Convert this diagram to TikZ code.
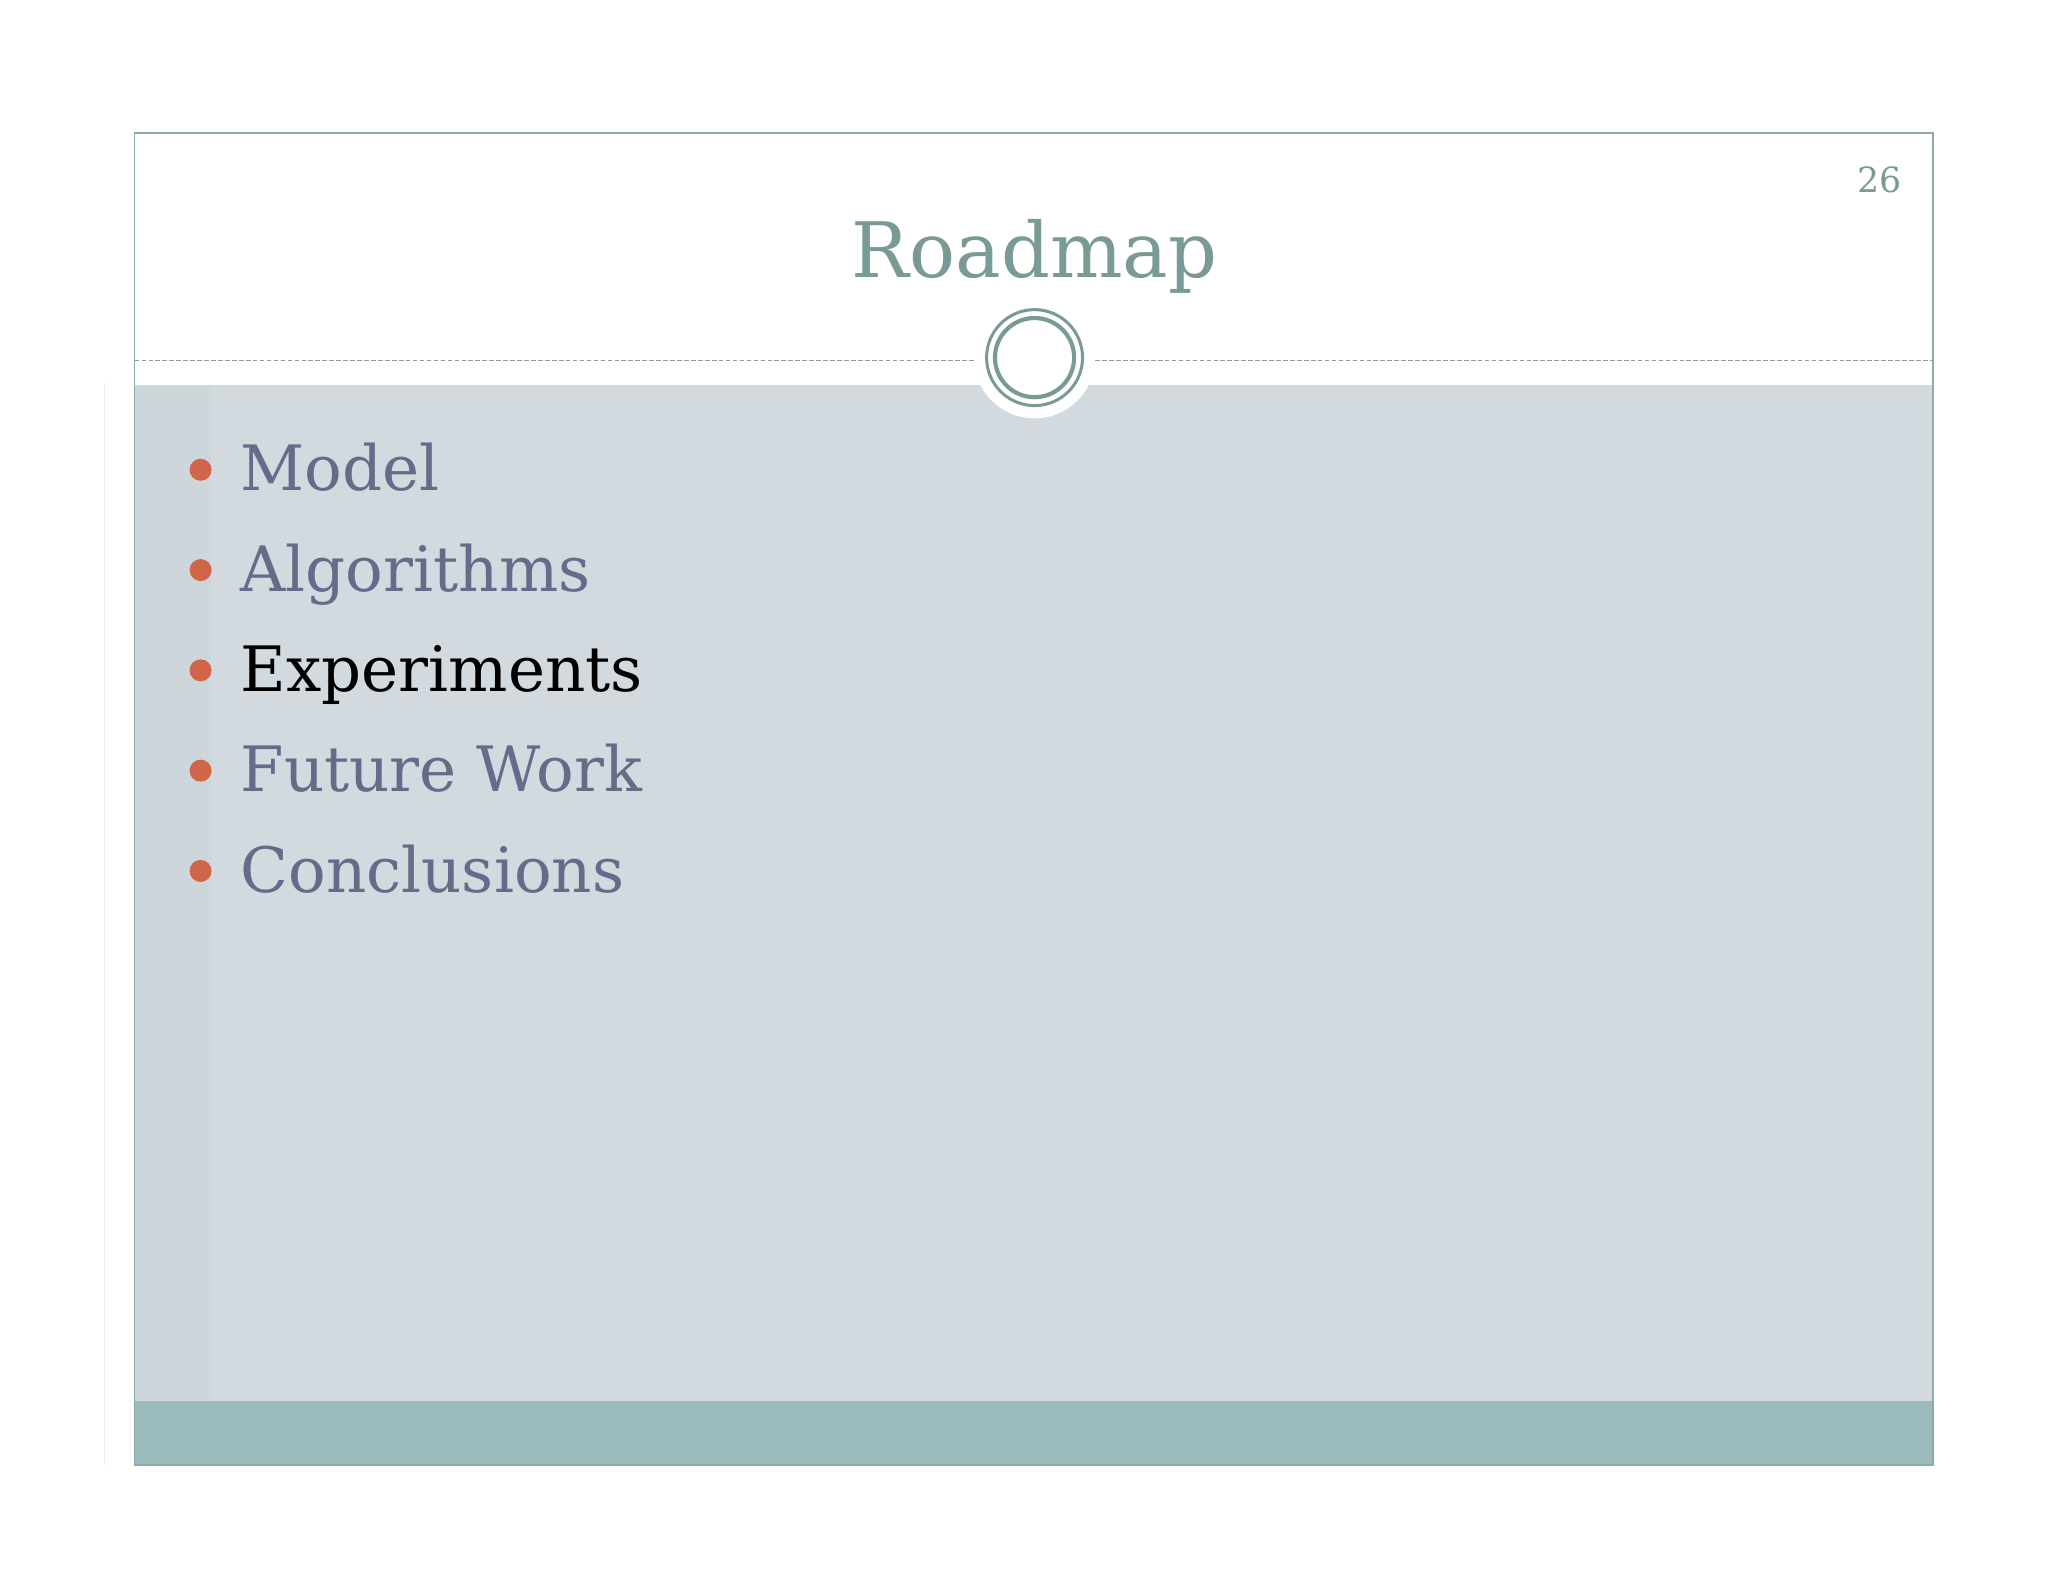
\documentclass[tikz,border=0pt]{standalone}
\usepackage{fontspec}
\setmainfont{DejaVu Serif}
\definecolor{tcol}{HTML}{7A9A95}
\definecolor{bgc}{HTML}{D2DAE0}
\definecolor{foot}{HTML}{9BBBBD}
\definecolor{txt}{HTML}{646C8A}
\definecolor{bul}{HTML}{D0654A}
\definecolor{frm}{HTML}{8FABA8}
\begin{document}
\begin{tikzpicture}[x=0.02cm,y=-0.02cm,
  item/.style={anchor=base west,text=txt,font=\fontsize{27}{32}\selectfont,inner sep=0pt},
  dot/.style={circle,fill=bul,minimum size=9.5pt,inner sep=0pt}]
\useasboundingbox (0,0) rectangle (1552,1199);
\fill[white] (0,0) rectangle (1552,1199);
\fill[bgc] (102,292) rectangle (1465,1062);
\fill[tcol, opacity=0.06] (102,292) rectangle (160,1062);
\fill[foot] (102,1062) rectangle (1465,1110);
\draw[frm, line width=0.7pt] (102,101) rectangle (1465,1110);
\draw[gray!15, line width=0.5pt] (79,290) -- (79,1110);
\draw[gray!80, dash pattern=on 2pt off 1pt, line width=0.4pt] (102,273) -- (740,273);
\draw[gray!80, dash pattern=on 2pt off 1pt, line width=0.4pt] (830,273) -- (1465,273);
\fill[white] (784,271) circle (46);
\node[circle, draw=tcol, line width=1.3pt, minimum size=73*0.567pt, inner sep=0pt] (ring) at (784,271) {};
\draw[tcol, line width=1.8pt] (ring.center) circle (30);
\node[text=tcol, font=\fontsize{33}{38}\selectfont, anchor=base] (title) at (784,210) {Roadmap};
\node[text=tcol, font=\fontsize{15}{18}\selectfont, anchor=base east] (num) at (1447,146) {26};
\node[dot] (d1) at (152,356) {}; \node[item] (i1) at (182,372) {Model};
\node[dot] (d2) at (152,432) {}; \node[item] (i2) at (182,448) {Algorithms};
\node[dot] (d3) at (152,508) {}; \node[item, text=black] (i3) at (182,524) {Experiments};
\node[dot] (d4) at (152,584) {}; \node[item] (i4) at (182,600) {Future Work};
\node[dot] (d5) at (152,660) {}; \node[item] (i5) at (182,676) {Conclusions};
\end{tikzpicture}
\end{document}
